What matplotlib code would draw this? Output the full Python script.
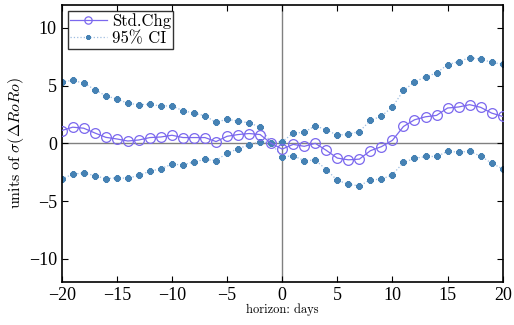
import numpy as np
import matplotlib
matplotlib.use("Agg")
import matplotlib.pyplot as plt

plt.rcParams['font.family'] = 'Liberation Serif'
plt.rcParams['mathtext.fontset'] = 'cm'

horizon = np.arange(-20, 21)

std_chg = [1.11, 1.40, 1.31, 0.90, 0.52, 0.38, 0.20, 0.29, 0.50, 0.55,
           0.70, 0.50, 0.50, 0.50, 0.15, 0.61, 0.76, 0.85, 0.76, 0.0,
           -0.50, -0.09, -0.26, 0.0, -0.61, -1.28, -1.43, -1.37, -0.64, -0.29,
           0.26, 1.46, 2.04, 2.30, 2.42, 3.06, 3.15, 3.35, 3.12, 2.62, 2.33]

ci_upper = [5.34, 5.45, 5.22, 4.66, 4.11, 3.85, 3.47, 3.35, 3.38, 3.24,
            3.24, 2.83, 2.62, 2.39, 1.81, 2.10, 1.92, 1.78, 1.40, 0.05,
            0.15, 0.87, 0.96, 1.52, 1.17, 0.70, 0.79, 1.02, 1.98, 2.36,
            3.15, 4.58, 5.31, 5.77, 6.09, 6.82, 7.08, 7.43, 7.29, 7.03, 6.85]

ci_lower = [-3.09, -2.68, -2.57, -2.80, -3.06, -3.00, -3.03, -2.77, -2.42, -2.19,
            -1.81, -1.87, -1.60, -1.40, -1.49, -0.85, -0.47, -0.12, 0.15, 0.0,
            -1.17, -1.08, -1.49, -1.46, -2.27, -3.21, -3.53, -3.70, -3.15, -3.12,
            -2.71, -1.66, -1.31, -1.14, -1.14, -0.70, -0.76, -0.70, -1.11, -1.72, -2.22]

fig = plt.figure(figsize=(5.14, 3.25), dpi=100)
ax = fig.add_axes([0.12, 0.133, 0.858, 0.852])

ax.axhline(0, color='#808080', lw=1, zorder=1)
ax.axvline(0, color='#808080', lw=1, zorder=1)

ax.plot(horizon, std_chg, color='#7B68EE', lw=0.9, marker='o', ms=7,
        mfc='none', mec='#7B68EE', mew=0.9, label='Std.Chg', zorder=3)
ax.plot(horizon, ci_upper, color='#9DBCE0', lw=0.9, ls=':', marker=(8, 2, 0), ms=4.5,
        mec='#4682B4', mew=1.6, label='95% CI', zorder=2)
ax.plot(horizon, ci_lower, color='#9DBCE0', lw=0.9, ls=':', marker=(8, 2, 0), ms=4.5,
        mec='#4682B4', mew=1.6, zorder=2)

ax.set_xlim(-20, 20)
ax.set_ylim(-12, 12)
ax.set_xticks(range(-20, 21, 5))
ax.set_yticks(range(-10, 11, 5))
ax.tick_params(direction='in', top=True, right=True, labelsize=13, length=4)
for s in ax.spines.values():
    s.set_linewidth(1.2)

ax.set_xlabel('horizon: days', fontsize=9, labelpad=0, family='cmr10')
ax.set_ylabel(r'$\mathrm{units\ of}\ \sigma(\Delta RoRo)$', fontsize=11.5, labelpad=2)

leg = ax.legend(loc='upper left', prop={'family': 'cmr10', 'size': 12},
                frameon=True, fancybox=False,
                borderpad=0.15, handlelength=2.2, handletextpad=0.3,
                labelspacing=0.1, borderaxespad=0.35, markerscale=0.75)
leg.get_frame().set_edgecolor('black')
leg.get_frame().set_linewidth(1.0)

fig.savefig('out.png', dpi=100)
